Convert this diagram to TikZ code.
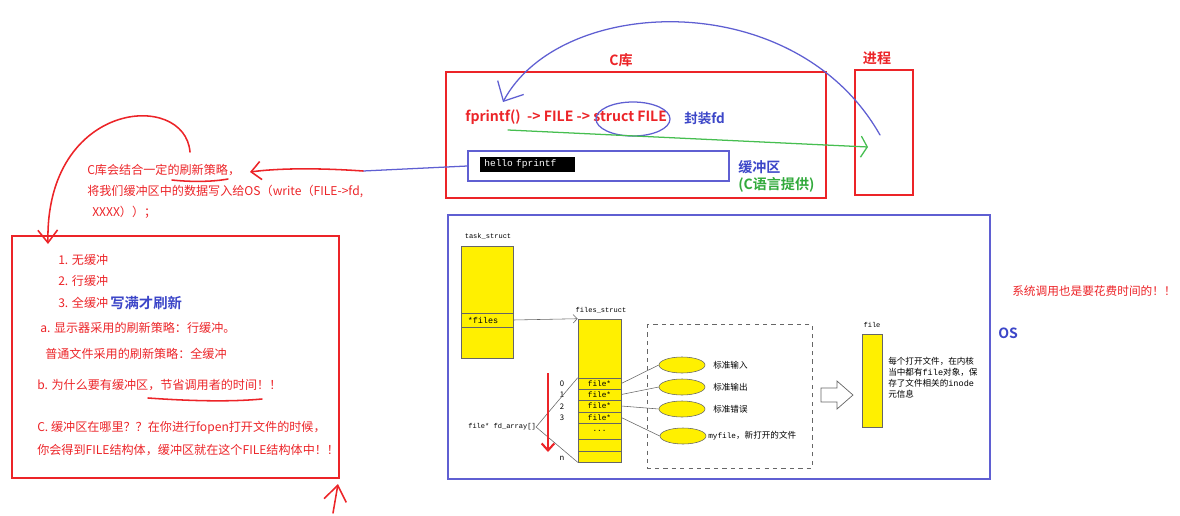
\documentclass[tikz,border=0pt]{standalone}
\usepackage{fontspec}
\setmainfont{Noto Sans CJK SC}[BoldFont={Noto Sans CJK SC Bold}]
\setmonofont{Liberation Mono}
\usetikzlibrary{arrows.meta,shapes.geometric}
\definecolor{hred}{RGB}{236,36,40}
\definecolor{hblue}{RGB}{95,95,210}
\definecolor{tblue}{RGB}{60,70,200}
\definecolor{hgreen}{RGB}{70,190,80}
\definecolor{tgreen}{RGB}{50,170,60}
\definecolor{fyellow}{RGB}{255,240,0}
\tikzset{
  note/.style={anchor=west,inner sep=0pt,text=hred,font=\fontsize{8.6}{10}\selectfont},
  tag/.style={anchor=west,inner sep=0pt,font=\bfseries\fontsize{10}{12}\selectfont},
  hand/.style={line width=1.1pt,line cap=round,line join=round},
  small/.style={anchor=west,inner sep=0pt,font=\fontsize{6.1}{7.6}\selectfont},
  code/.style={anchor=west,inner sep=0pt,font=\ttfamily\fontsize{5}{6}\selectfont},
  cell/.style={draw=black!60,fill=fyellow,minimum width=1.075cm,inner sep=0pt,font=\ttfamily\fontsize{5.5}{6}\selectfont},
  slot/.style={ellipse,draw=black!60,fill=fyellow,minimum width=1.15cm,minimum height=0.4cm,inner sep=0pt},
}
\begin{document}
\begin{tikzpicture}[x=0.025cm,y=-0.025cm]
  \useasboundingbox (0,0) rectangle (1180,515);
  % C library and process
  \node[draw=hred,line width=1.1pt,minimum width=9.5cm,minimum height=3.15cm] (clib) at (636,135) {};
  \node[tag,text=hred,anchor=center] (clibl) at (621,60) {C库};
  \node[draw=hred,line width=1.1pt,minimum width=1.45cm,minimum height=3.125cm] (proc) at (884,132.5) {};
  \node[tag,text=hred,anchor=center] (procl) at (877,58) {进程};
  \node[tag,text=hred] (fpr) at (465,117) {fprintf()~~-> FILE -> struct FILE};
  \draw[hblue,line width=0.9pt] (633,119) ellipse [x radius=0.925cm,y radius=0.425cm];
  \node[tag,text=tblue,font=\bfseries\fontsize{9.6}{11}\selectfont] (wrap) at (684,118) {封装fd};
  \node[draw=hblue,line width=0.9pt,minimum width=6.525cm,minimum height=0.75cm] (buf) at (598.5,166) {};
  \node[fill=black,text=white,anchor=west,inner sep=0pt,inner xsep=0.1cm,text width=2.175cm,align=left,
        minimum height=0.375cm,font=\ttfamily\fontsize{6.8}{8}\selectfont] (hello) at (480,164.5) {hello fprintf};
  \node[tag,text=tblue] (bufl) at (738,167) {缓冲区};
  \node[tag,text=tgreen] (bufc) at (738,185) {(C语言提供)};
  \coordinate (arcs) at (880,135);
  \coordinate (arce) at (503,102);
  \draw[hand,hblue,line width=0.9pt,-{Straight Barb[length=11pt,width=21pt]}] (arcs) .. controls (795,-15) and (560,-5) .. (arce);
  \coordinate (gs) at (508,130);
  \coordinate (ge) at (868,147);
  \draw[hand,hgreen,line width=0.9pt,-{Straight Barb[length=4.5pt,width=15pt]}] (gs) -- (ge);
  % flush note
  \coordinate (flushpt) at (363,171);
  \coordinate (flushtip) at (250,172);
  \draw[hblue,line width=0.9pt] (buf.west) -- (flushpt);
  \draw[hand,hred,-{Straight Barb[length=7pt,width=13pt]}] (flushpt) .. controls (320,168) and (280,168) .. (flushtip);
  \node[note] (n1) at (87,170) {C库会结合一定的刷新策略，};
  \node[note] (n2) at (87,191) {将我们缓冲区中的数据写入给OS（write（FILE->fd,};
  \node[note] (n3) at (92,212) {XXXX））；};
  \draw[hand,hred] (172,180) .. controls (190,182) and (212,182) .. (228,179);
  \coordinate (loops) at (190,152);
  \coordinate (loope) at (48,244);
  \draw[hand,hred,-{Straight Barb[length=9pt,width=14pt]}] (loops) .. controls (185,90) and (45,100) .. (loope);
  % policies
  \draw[hred,line width=1.2pt] (12,236) rectangle (339,478);
  \node[note] (p1) at (58,260) {1. 无缓冲};
  \node[note] (p2) at (58,281) {2. 行缓冲};
  \node[note] (p3) at (58,303) {3. 全缓冲};
  \node[note,text=tblue,font=\bfseries\fontsize{10.2}{12}\selectfont] (p3b) at (110,303) {写满才刷新};
  \node[note] (pa) at (40,328) {a. 显示器采用的刷新策略：行缓冲。};
  \node[note] (pa2) at (45,354) {普通文件采用的刷新策略：全缓冲};
  \node[note] (pb) at (37,385) {b. 为什么要有缓冲区，节省调用者的时间！！};
  \draw[hand,hred] (148,398) .. controls (190,401) and (230,402) .. (262,399);
  \node[note] (pc) at (37,428) {C. 缓冲区在哪里？？在你进行fopen打开文件的时候，};
  \node[note] (pc2) at (37,450) {你会得到FILE结构体，缓冲区就在这个FILE结构体中！！};
  \coordinate (upa) at (333,513);
  \coordinate (upb) at (338,484);
  \draw[hand,hred,-{Straight Barb[length=11pt,width=16pt]}] (upa) -- (upb);
  % OS
  \draw[hblue,line width=1.2pt] (448,215) rectangle (990,479);
  \node[tag,text=tblue] (osl) at (998,333) {OS};
  \node[note,font=\fontsize{8.3}{10}\selectfont] (cost) at (1012,291) {系统调用也是要花费时间的！！};
  \node[code,anchor=center] (tsl) at (488,236) {task\_struct};
  \node[cell,minimum width=1.3cm,minimum height=1.675cm] (tstop) at (487,279.5) {};
  \node[cell,minimum width=1.3cm,minimum height=0.35cm,inner xsep=0.17cm,text width=0.96cm,align=left,
        font=\ttfamily\fontsize{6}{7}\selectfont] (tsfiles) at (487,320) {*files};
  \node[cell,minimum width=1.3cm,minimum height=0.775cm] (tsbot) at (487,342.5) {};
  \node[code,anchor=center] (fsl) at (601,310) {files\_struct};
  \node[cell,minimum height=1.475cm] (fstop) at (599.5,348.5) {};
  \node[cell,minimum height=0.275cm] (fd0) at (599.5,383.5) {file*};
  \node[cell,minimum height=0.275cm] (fd1) at (599.5,394.5) {file*};
  \node[cell,minimum height=0.3cm] (fd2) at (599.5,406) {file*};
  \node[cell,minimum height=0.275cm] (fd3) at (599.5,417.5) {file*};
  \node[cell,minimum height=0.4cm] (fddots) at (599.5,431) {...};
  \node[cell,minimum height=0.3cm] (fdx) at (599.5,445) {};
  \node[cell,minimum height=0.275cm] (fdn) at (599.5,456.5) {};
  \draw[black!60,line width=0.4pt,-{Straight Barb[length=3pt,width=6pt]}] (tsfiles.east) -- (fstop.north west);
  \foreach \i/\y in {0/384,1/395,2/407,3/418,n/458}
    \node[code,anchor=center,font=\rmfamily\fontsize{5.5}{6}\selectfont] (idx\i) at (562,\y) {\i};
  \node[code] (fdarr) at (468,427) {file* fd\_array[]};
  \draw[black!60,line width=0.4pt] (fd0.north west) -- (fdarr.east) -- (fdn.south west);
  \coordinate (ds) at (548,373);
  \coordinate (de) at (548,452);
  \draw[hred,line width=1.5pt,-{Straight Barb[length=5pt,width=9pt]}] (ds) -- (de);
  \draw[black!60,dashed,line width=0.5pt] (647,324) rectangle (812,468);
  \node[slot] (sin) at (682,365) {};
  \node[slot] (sout) at (682,387) {};
  \node[slot] (serr) at (682,409) {};
  \node[slot] (smy) at (683,436) {};
  \node[small] (lin) at (713,365) {标准输入};
  \node[small] (lout) at (713,387) {标准输出};
  \node[small] (lerr) at (713,409) {标准错误};
  \node[small] (lmy) at (708,436) {{\ttfamily\fontsize{5.5}{6}\selectfont myfile}，新打开的文件};
  \draw[black!60,line width=0.4pt] (fd0.east) -- (sin.west);
  \draw[black!60,line width=0.4pt] (fd1.east) -- (sout.west);
  \draw[black!60,line width=0.4pt] (fd2.east) -- (serr.west);
  \draw[black!60,line width=0.4pt] (fd3.east) -- (smy.west);
  \draw[black!60,line width=0.5pt,fill=white] (821,388) -- (837,388) -- (837,381) -- (853,395)
    -- (837,409) -- (837,402) -- (821,402) -- cycle;
  \node[code,anchor=center] (filel) at (872,325) {file};
  \node[cell,minimum width=0.5cm,minimum height=2.325cm] (fileobj) at (872,380.5) {};
  \node[small,anchor=north west,align=left,font=\fontsize{6.1}{7.8}\selectfont] (filenote) at (888,357)
    {每个打开文件，在内核\\当中都有{\ttfamily file}对象，保\\存了文件相关的{\ttfamily inode}\\元信息};
\end{tikzpicture}
\end{document}
